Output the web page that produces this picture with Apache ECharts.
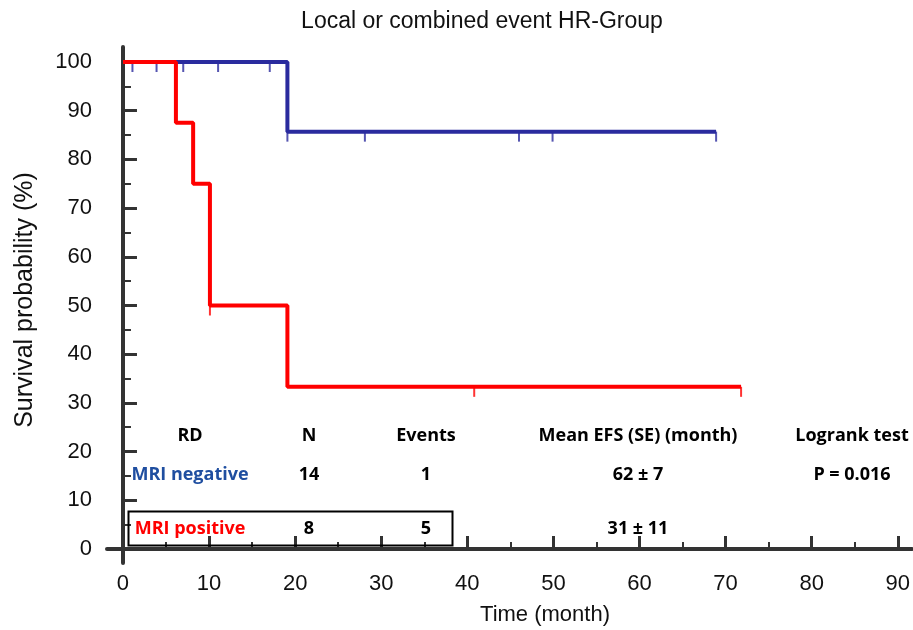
<!DOCTYPE html>
<html>
<head>
<meta charset="utf-8">
<script src="https://cdn.jsdelivr.net/npm/echarts@6/dist/echarts.min.js"></script>
<style>
html,body{margin:0;padding:0;background:#fff;}
#chart{width:913px;height:630px;}
</style>
</head>
<body>
<div id="chart"></div>
<script>
// ---- data ----
const titleText = 'Local or combined event HR-Group';
const xName = 'Time (month)';
const yName = 'Survival probability (%)';
const xMajorTicks = [0, 10, 20, 30, 40, 50, 60, 70, 80, 90];
const xMinorTicks = [5, 15, 25, 35, 45, 55, 65, 75, 85];
const yMajorTicks = [0, 10, 20, 30, 40, 50, 60, 70, 80, 90, 100];
const yMinorTicks = [5, 15, 25, 35, 45, 55, 65, 75, 85, 95];

// MRI negative (blue) KM curve
const negTimes = [0, 19.1, 68.9];
const negSurv = [100, 85.7, 85.7];
const negCensorTimes = [1.1, 3.9, 7.0, 11.05, 17.05, 19.1, 28.1, 46.0, 49.9, 68.9];
const negCensorSurv = [100, 100, 100, 100, 100, 85.7, 85.7, 85.7, 85.7, 85.7];

// MRI positive (red) KM curve
const posTimes = [0, 6.15, 8.15, 10.1, 19.1, 71.8];
const posSurv = [100, 87.5, 75, 50, 33.3, 33.3];
const posCensorTimes = [10.1, 40.8, 71.8];
const posCensorSurv = [50, 33.3, 33.3];

// table
const tableHeader = ['RD', 'N', 'Events', 'Mean EFS (SE) (month)', 'Logrank test'];
const rowNegative = ['MRI negative', '14', '1', '62 \u00B1 7', 'P = 0.016'];
const rowPositive = ['MRI positive', '8', '5', '31 \u00B1 11', ''];

// ---- layout ----
const BLUE = '#2a2b9e';
const RED = '#ff0000';
const TXT_BLUE = '#1f4ea0';
const AXIS = '#333333';
const F = '"Liberation Sans", Arial, sans-serif';
const TF = '"Open Sans", "Noto Sans", sans-serif';

const xMin = -1.856, xMax = 91.65;
const yMin = -2.875, yMax = 103.08;

const zip = (a, b) => a.map((v, i) => [v, b[i]]);

const chart = echarts.init(document.getElementById('chart'), null, {renderer: 'canvas'});

const colX = [190, 309, 426, 638, 852];
const rowY = [436, 475, 529];
const rowColors = [[ '#000', '#000', '#000', '#000', '#000'],
                   [TXT_BLUE, '#000', '#000', '#000', '#000'],
                   [RED, '#000', '#000', '#000', '#000']];
const graphics = [];
[tableHeader, rowNegative, rowPositive].forEach((row, r) => {
  row.forEach((t, c) => {
    if (!t) return;
    graphics.push({
      type: 'text', x: colX[c], y: rowY[r], z: 10,
      style: {text: t, font: 'bold 18px ' + TF, fill: rowColors[r][c], align: 'center', verticalAlign: 'middle'}
    });
  });
});
graphics.push({type: 'rect', shape: {x: 128.5, y: 511.5, width: 324, height: 34}, z: 10,
  style: {fill: 'none', stroke: '#000', lineWidth: 2}});
graphics.push({type: 'text', x: 482, y: 22, style: {text: titleText, font: '23px ' + F, fill: '#111', align: 'center', verticalAlign: 'middle'}});
graphics.push({type: 'text', x: 545, y: 615, style: {text: xName, font: '22px ' + F, fill: '#111', align: 'center', verticalAlign: 'middle'}});
graphics.push({type: 'text', x: 25, y: 300, rotation: Math.PI / 2, style: {text: yName, font: '25px ' + F, fill: '#111', align: 'center', verticalAlign: 'middle'}});

const option = {
  animation: false,
  backgroundColor: '#fff',
  grid: {left: 107, right: 0, top: 47, bottom: 67, containLabel: false},
  xAxis: [{
    type: 'value', min: xMin, max: xMax, position: 'bottom',
    splitLine: {show: false},
    axisLine: {show: true, lineStyle: {color: AXIS, width: 4}},
    axisTick: {show: true, inside: true, length: 13, customValues: xMajorTicks, lineStyle: {color: AXIS, width: 3}},
    axisLabel: {show: true, customValues: xMajorTicks, margin: 10, color: '#111', fontFamily: F, fontSize: 22}
  }, {
    type: 'value', min: xMin, max: xMax, position: 'bottom', offset: 0,
    splitLine: {show: false},
    axisLine: {show: false},
    axisTick: {show: true, inside: true, length: 7, customValues: xMinorTicks, lineStyle: {color: AXIS, width: 2}},
    axisLabel: {show: false}
  }],
  yAxis: [{
    type: 'value', min: yMin, max: yMax, position: 'left',
    splitLine: {show: false},
    axisLine: {show: true, lineStyle: {color: AXIS, width: 4}},
    axisTick: {show: true, inside: true, length: 14, customValues: yMajorTicks, lineStyle: {color: AXIS, width: 3}},
    axisLabel: {show: true, customValues: yMajorTicks, margin: 15, color: '#111', fontFamily: F, fontSize: 22}
  }, {
    type: 'value', min: yMin, max: yMax, position: 'left', offset: 0,
    splitLine: {show: false},
    axisLine: {show: false},
    axisTick: {show: true, inside: true, length: 8, customValues: yMinorTicks, lineStyle: {color: AXIS, width: 2}},
    axisLabel: {show: false}
  }],
  series: [
    {type: 'line', name: 'MRI negative', step: 'end', data: zip(negTimes, negSurv), showSymbol: false, symbol: 'none',
     lineStyle: {color: BLUE, width: 4}, z: 3},
    {type: 'scatter', data: zip(negCensorTimes, negCensorSurv), symbol: 'rect', symbolSize: [2, 10], symbolOffset: [0, 5],
     itemStyle: {color: BLUE}, z: 2},
    {type: 'line', name: 'MRI positive', step: 'end', data: zip(posTimes, posSurv), showSymbol: false, symbol: 'none',
     lineStyle: {color: RED, width: 4}, z: 5},
    {type: 'scatter', data: zip(posCensorTimes, posCensorSurv), symbol: 'rect', symbolSize: [2, 10], symbolOffset: [0, 5],
     itemStyle: {color: RED}, z: 4}
  ],
  graphic: graphics
};
chart.setOption(option);
</script>
</body>
</html>
